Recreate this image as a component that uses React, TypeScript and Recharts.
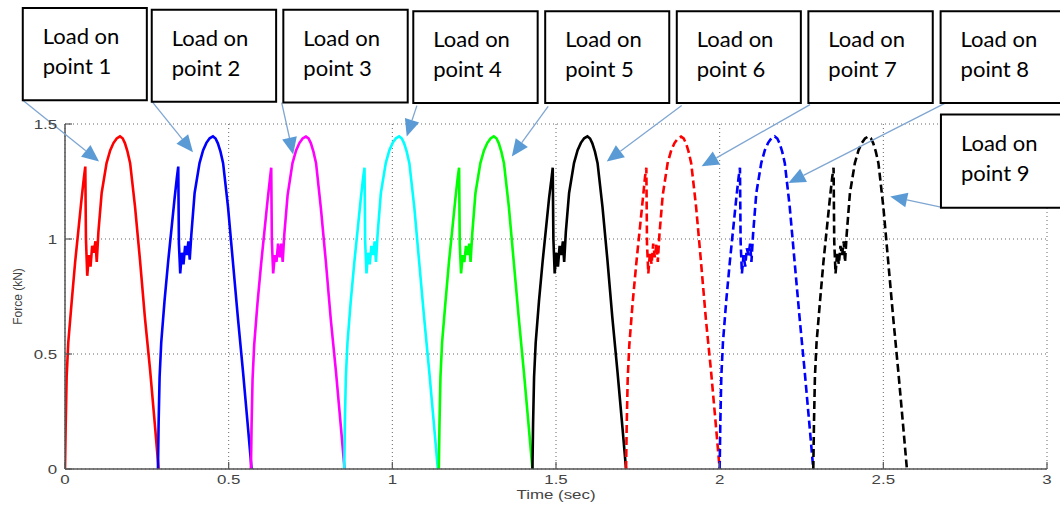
import React from 'react';
import { LineChart, Line, XAxis, YAxis, CartesianGrid, ReferenceArea, ReferenceLine } from 'recharts';

// ---------- data ----------
const xTicks = [0, 0.5, 1, 1.5, 2, 2.5, 3];
const yTicks = [0, 0.5, 1, 1.5];

const pulseLabels = ['point 1', 'point 2', 'point 3', 'point 4', 'point 5', 'point 6', 'point 7', 'point 8', 'point 9'];
const pulseStarts = [0, 0.284, 0.568, 0.853, 1.142, 1.428, 1.714, 2.0, 2.286];
const relTimes = [0, 0.002, 0.005, 0.01, 0.02, 0.031, 0.041, 0.051, 0.058, 0.062, 0.064, 0.068, 0.073, 0.078, 0.083, 0.088, 0.093, 0.097, 0.102, 0.112, 0.127, 0.138, 0.148, 0.158, 0.168, 0.176, 0.183, 0.191, 0.199, 0.214, 0.229, 0.244, 0.26, 0.275, 0.286];

const force1 = [0, 0.18, 0.4, 0.55, 0.72, 0.9, 1.04, 1.18, 1.27, 1.315, 1.0, 0.84, 0.93, 0.88, 0.97, 0.94, 0.99, 0.9, 1.03, 1.2, 1.33, 1.385, 1.417, 1.437, 1.446, 1.438, 1.417, 1.38, 1.33, 1.14, 0.91, 0.66, 0.43, 0.185, 0];
const force2 = [0, 0.2, 0.4, 0.55, 0.73, 0.9, 1.04, 1.18, 1.27, 1.315, 0.98, 0.85, 0.94, 0.89, 0.97, 0.93, 0.99, 0.91, 1.02, 1.2, 1.33, 1.386, 1.418, 1.438, 1.446, 1.437, 1.416, 1.38, 1.33, 1.14, 0.9, 0.66, 0.42, 0.18, 0];
const force3 = [0, 0.19, 0.39, 0.54, 0.72, 0.89, 1.03, 1.17, 1.26, 1.31, 0.99, 0.85, 0.93, 0.9, 0.98, 0.92, 0.98, 0.9, 1.02, 1.19, 1.33, 1.385, 1.417, 1.437, 1.445, 1.437, 1.417, 1.38, 1.33, 1.13, 0.9, 0.65, 0.42, 0.18, 0];
const force4 = [0, 0.2, 0.4, 0.55, 0.73, 0.9, 1.04, 1.18, 1.27, 1.31, 0.99, 0.85, 0.94, 0.89, 0.97, 0.93, 0.99, 0.9, 1.02, 1.2, 1.33, 1.386, 1.418, 1.438, 1.446, 1.437, 1.416, 1.38, 1.33, 1.14, 0.9, 0.66, 0.42, 0.18, 0];
const force5 = [0, 0.19, 0.4, 0.55, 0.72, 0.9, 1.04, 1.18, 1.27, 1.31, 0.98, 0.85, 0.93, 0.9, 0.97, 0.93, 0.98, 0.9, 1.02, 1.2, 1.33, 1.385, 1.417, 1.437, 1.446, 1.438, 1.417, 1.38, 1.33, 1.14, 0.9, 0.66, 0.42, 0.18, 0];
const force6 = [0, 0.2, 0.4, 0.55, 0.73, 0.9, 1.04, 1.18, 1.26, 1.31, 1.0, 0.85, 0.94, 0.88, 0.97, 0.93, 0.99, 0.9, 1.03, 1.2, 1.33, 1.386, 1.418, 1.438, 1.446, 1.437, 1.416, 1.38, 1.33, 1.14, 0.91, 0.66, 0.42, 0.18, 0];
const force7 = [0, 0.19, 0.39, 0.54, 0.72, 0.89, 1.03, 1.17, 1.27, 1.31, 0.98, 0.85, 0.94, 0.89, 0.98, 0.92, 0.98, 0.9, 1.02, 1.19, 1.33, 1.385, 1.417, 1.437, 1.445, 1.437, 1.417, 1.38, 1.33, 1.14, 0.9, 0.65, 0.42, 0.18, 0];
const force8 = [0, 0.2, 0.4, 0.55, 0.73, 0.9, 1.04, 1.18, 1.27, 1.31, 0.99, 0.85, 0.93, 0.88, 0.96, 0.93, 0.98, 0.9, 1.02, 1.2, 1.33, 1.386, 1.418, 1.438, 1.446, 1.437, 1.416, 1.38, 1.33, 1.14, 0.9, 0.66, 0.42, 0.18, 0];
const force9 = [0, 0.19, 0.4, 0.55, 0.72, 0.9, 1.04, 1.18, 1.27, 1.31, 0.99, 0.85, 0.94, 0.89, 0.97, 0.93, 0.99, 0.9, 1.02, 1.2, 1.33, 1.385, 1.417, 1.437, 1.446, 1.438, 1.417, 1.38, 1.33, 1.14, 0.9, 0.66, 0.42, 0.18, 0];

const forces = [force1, force2, force3, force4, force5, force6, force7, force8, force9];

// ---------- styles ----------
const lineColors = ['#ff0000', '#0000ff', '#ff00ff', '#00ffff', '#00ff00', '#000000', '#ff0000', '#0000ff', '#000000'];
const lineDashed = [false, false, false, false, false, false, true, true, true];

// annotation placement in data units: [t1, t2, vBottom, vTop]
const boxPlacement = [
  [-0.129, 0.25, 1.603, 2.004],
  [0.265, 0.645, 1.597, 1.997],
  [0.667, 1.047, 1.594, 1.997],
  [1.064, 1.444, 1.591, 1.99],
  [1.467, 1.846, 1.591, 1.99],
  [1.869, 2.248, 1.591, 1.99],
  [2.271, 2.651, 1.591, 1.99],
  [2.675, 3.07, 1.591, 1.99],
  [2.676, 3.07, 1.136, 1.541],
];
// arrows [tFrom, vFrom, tTo, vTo]
const arrowPlacement = [
  [-0.129, 1.603, 0.104, 1.337],
  [0.266, 1.597, 0.391, 1.377],
  [0.662, 1.593, 0.697, 1.367],
  [1.075, 1.58, 1.044, 1.446],
  [1.476, 1.577, 1.365, 1.359],
  [1.884, 1.58, 1.655, 1.337],
  [2.276, 1.584, 1.945, 1.316],
  [2.689, 1.591, 2.21, 1.243],
  [2.683, 1.136, 2.521, 1.185],
];

const seriesData = forces.map((f, i) =>
  f.map((v, j) => ({ t: Math.round((pulseStarts[i] + relTimes[j]) * 10000) / 10000, v }))
);

const AXIS_COLOR = '#555';
const TEXT_COLOR = '#444';
const TICK_FONT = '"Liberation Sans", Arial, sans-serif';

const fmt = (v: number) => String(v);

const BottomTick = (props: any) => {
  const { x, y, payload } = props;
  return (
    <g>
      <line x1={x} y1={y} x2={x} y2={y - 7} stroke={AXIS_COLOR} strokeWidth={1.2} />
      <text
        x={0}
        y={y + 15}
        textAnchor="middle"
        fontFamily={TICK_FONT}
        fontSize={13}
        fill={TEXT_COLOR}
        transform={`translate(${x} 0) scale(1.3 1)`}
      >
        {fmt(payload.value)}
      </text>
    </g>
  );
};

const TopTick = (props: any) => {
  const { x, y } = props;
  return <line x1={x} y1={y} x2={x} y2={y + 7} stroke={AXIS_COLOR} strokeWidth={1.2} />;
};

const LeftTick = (props: any) => {
  const { x, y, payload } = props;
  return (
    <g>
      <line x1={x} y1={y} x2={x + 7} y2={y} stroke={AXIS_COLOR} strokeWidth={1.2} />
      <text
        x={-6}
        y={y + 5}
        textAnchor="end"
        fontFamily={TICK_FONT}
        fontSize={13}
        fill={TEXT_COLOR}
        transform={`translate(${x} 0) scale(1.3 1)`}
      >
        {fmt(payload.value)}
      </text>
    </g>
  );
};

const RightTick = (props: any) => {
  const { x, y } = props;
  return <line x1={x} y1={y} x2={x - 7} y2={y} stroke={AXIS_COLOR} strokeWidth={1.2} />;
};

const renderArrow = (props: any) => {
  const { x1, y1, x2, y2 } = props;
  const dx = x2 - x1;
  const dy = y2 - y1;
  const len = Math.sqrt(dx * dx + dy * dy) || 1;
  const ux = dx / len;
  const uy = dy / len;
  const headLen = 17;
  const headHalf = 7.5;
  const bx = x2 - ux * headLen;
  const by = y2 - uy * headLen;
  const px = -uy;
  const py = ux;
  const pts = `${x2},${y2} ${bx + px * headHalf},${by + py * headHalf} ${bx - px * headHalf},${by - py * headHalf}`;
  return (
    <g>
      <line x1={x1} y1={y1} x2={bx} y2={by} stroke="#7fa6d2" strokeWidth={1.3} />
      <polygon points={pts} fill="#5b9bd5" />
    </g>
  );
};

const makeBoxLabel = (name: string) => (p: any) => {
  const vb = p.viewBox || {};
  const x = vb.x ?? 0;
  const y = vb.y ?? 0;
  return (
    <g>
      <text x={x + 20} y={y + 36} fontFamily="Lato, 'Open Sans', sans-serif" fontSize={22} fill="#000">
        Load on
      </text>
      <text x={x + 20} y={y + 66} fontFamily="Lato, 'Open Sans', sans-serif" fontSize={22} fill="#000">
        {name}
      </text>
    </g>
  );
};

const XLabel = (p: any) => {
  const vb = p.viewBox || {};
  const cx = (vb.x ?? 0) + (vb.width ?? 0) / 2;
  const y = (vb.y ?? 0) + 30;
  return (
    <text
      x={0}
      y={y}
      textAnchor="middle"
      fontFamily={TICK_FONT}
      fontSize={13}
      fill={TEXT_COLOR}
      transform={`translate(${cx} 0) scale(1.3 1)`}
    >
      Time (sec)
    </text>
  );
};

const YLabel = (p: any) => {
  const vb = p.viewBox || {};
  const cx = (vb.x ?? 0) + 22;
  const cy = (vb.y ?? 0) + (vb.height ?? 0) / 2;
  return (
    <text
      x={0}
      y={0}
      textAnchor="middle"
      fontFamily={TICK_FONT}
      fontSize={12}
      fill={TEXT_COLOR}
      transform={`translate(${cx} ${cy}) rotate(-90)`}
    >
      Force (kN)
    </text>
  );
};

export default function App() {
  return (
    <div style={{ position: 'absolute', left: 0, top: 0, width: 1060, height: 508, background: '#fff' }}>
      <LineChart width={1060} height={508} margin={{ top: 124, right: 13, bottom: 0, left: 0 }}>
        <CartesianGrid stroke="#666" strokeDasharray="1 3" strokeWidth={1} />
        <XAxis
          dataKey="t"
          type="number"
          domain={[0, 3]}
          ticks={xTicks}
          interval={0}
          height={39}
          tickSize={0}
          tickMargin={0}
          tickLine={false}
          tick={<BottomTick />}
          axisLine={{ stroke: AXIS_COLOR, strokeWidth: 1.5 }}
          allowDataOverflow
          label={<XLabel />}
        />
        <XAxis
          xAxisId="top"
          orientation="top"
          type="number"
          domain={[0, 3]}
          ticks={xTicks}
          interval={0}
          height={0}
          tickSize={0}
          tickMargin={0}
          tickLine={false}
          tick={<TopTick />}
          axisLine={{ stroke: AXIS_COLOR, strokeWidth: 1.5 }}
        />
        <YAxis
          type="number"
          domain={[0, 1.5]}
          ticks={yTicks}
          interval={0}
          width={65}
          tickSize={0}
          tickMargin={0}
          tickLine={false}
          tick={<LeftTick />}
          axisLine={{ stroke: AXIS_COLOR, strokeWidth: 1.5 }}
          allowDataOverflow
          label={<YLabel />}
        />
        <YAxis
          yAxisId="right"
          orientation="right"
          type="number"
          domain={[0, 1.5]}
          ticks={yTicks}
          interval={0}
          width={0}
          tickSize={0}
          tickMargin={0}
          tickLine={false}
          tick={<RightTick />}
          axisLine={{ stroke: AXIS_COLOR, strokeWidth: 1.5 }}
        />
        {seriesData.map((d, i) => (
          <Line
            key={i}
            data={d}
            dataKey="v"
            type="linear"
            stroke={lineColors[i]}
            strokeWidth={2.6}
            strokeDasharray={lineDashed[i] ? '8 4' : undefined}
            dot={false}
            activeDot={false}
            isAnimationActive={false}
          />
        ))}
        {arrowPlacement.map((a, i) => (
          <ReferenceLine
            key={'a' + i}
            segment={[{ x: a[0], y: a[1] }, { x: a[2], y: a[3] }]}
            ifOverflow="visible"
            shape={renderArrow}
            zIndex={1000}
          />
        ))}
        {boxPlacement.map((b, i) => (
          <ReferenceArea
            key={'b' + i}
            x1={b[0]}
            x2={b[1]}
            y1={b[2]}
            y2={b[3]}
            ifOverflow="visible"
            fill="#ffffff"
            fillOpacity={1}
            stroke="#000"
            strokeWidth={2}
            zIndex={1100}
            label={{ content: makeBoxLabel(pulseLabels[i]) }}
          />
        ))}
      </LineChart>
    </div>
  );
}
